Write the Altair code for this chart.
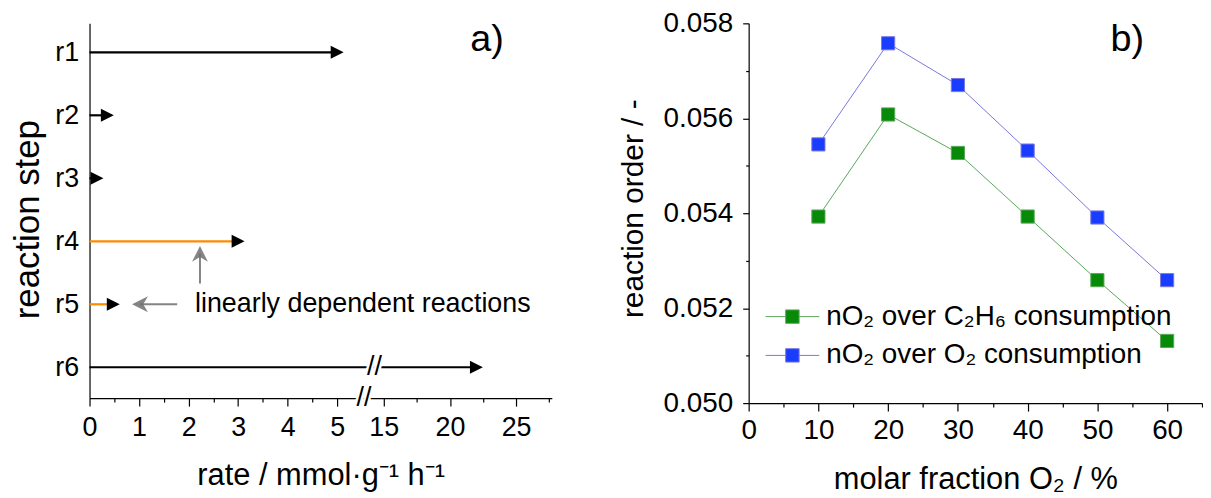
import altair as alt
import pandas as pd

# ---------------- panel a) data ----------------
steps = ["r1", "r2", "r3", "r4", "r5", "r6"]
rates = [5.0, 0.36, 0.15, 3.0, 0.48, 22.0]
linearly_dependent = [False, False, False, True, True, False]
rate_ticks = [0, 0.5, 1, 1.5, 2, 2.5, 3, 3.5, 4, 4.5, 5, 15, 17.5, 20, 22.5, 25, 27.5]
rate_break = [5.54, 13.5]
rate_max = 27.7
annotation_text = "linearly dependent reactions"

# ---------------- panel b) data ----------------
o2_fraction = [10, 20, 30, 40, 50, 60]
order_c2h6 = [0.05393, 0.05608, 0.05527, 0.05393, 0.05259, 0.05131]
order_o2 = [0.05545, 0.05758, 0.05670, 0.05532, 0.05391, 0.05259]
series_names = ["nO\u2082 over C\u2082H\u2086 consumption", "nO\u2082 over O\u2082 consumption"]
fraction_ticks = [0, 5, 10, 15, 20, 25, 30, 35, 40, 45, 50, 55, 60, 65]
order_ticks = [0.050, 0.051, 0.052, 0.053, 0.054, 0.055, 0.056, 0.057, 0.058]

FONT = "Liberation Sans"
WA, HA = 465, 377
WB, HB = 456, 382

TRI_RIGHT = "M-1,-1L1,0L-1,1Z"
HEAD_LEFT = "M-1,0L1,-1L0.4,0L1,1Z"
HEAD_UP = "M0,-1L-1,1L0,0.4L1,1Z"
LEG_SYMBOL = "M-2,0L-0.5,0M0.5,0L2,0M-0.5,-0.5L0.5,-0.5L0.5,0.5L-0.5,0.5Z"

# ---------------- panel a) ----------------
dfA = pd.DataFrame({
    "step": steps,
    "row": list(range(1, len(steps) + 1)),
    "start": [0.0] * len(steps),
    "rate": rates,
    "kind": ["dependent" if d else "independent" for d in linearly_dependent],
})

xA = alt.Scale(domain=[0, rate_break[0], rate_break[1], rate_max],
               range=[0, 276, 276, WA], nice=False, zero=False)
yA = alt.Scale(domain=[0.54, len(steps) + 0.49], reverse=True, nice=False, zero=False)
step_lookup = "[" + ",".join("'%s'" % s for s in steps) + "][datum.value - 1]"

axis_xA = alt.Axis(
    values=rate_ticks,
    labelExpr="datum.value % 1 ? '' : format(datum.value, 'd')",
    tickSize={"condition": {"test": "datum.value % 1 != 0", "value": 4}, "value": 8},
    title="rate / mmol\u00b7g\u207b\u00b9 h\u207b\u00b9",
    labelFontSize=27, titleFontSize=31, labelPadding=9, titlePadding=20,
    labelOverlap=False, labelFlush=False,
)
axis_yA = alt.Axis(
    values=list(range(1, len(steps) + 1)),
    labelExpr=step_lookup,
    ticks=False,
    title="reaction step",
    titleY=197,
    labelFontSize=27, titleFontSize=35, labelPadding=11, titlePadding=9,
)


def XA(field):
    return alt.X(field, scale=xA, axis=axis_xA)


def YA(field):
    return alt.Y(field, scale=yA, axis=axis_yA)


rules_a = alt.Chart(dfA).mark_rule(strokeWidth=2.2).encode(
    x=XA("start:Q"),
    x2="rate:Q",
    y=YA("row:Q"),
    color=alt.Color("kind:N", scale=alt.Scale(domain=["independent", "dependent"],
                                              range=["#000000", "#ff8a00"]), legend=None),
)
heads_a = alt.Chart(dfA).mark_point(shape=TRI_RIGHT, filled=True, size=170, color="black",
                                    opacity=1, strokeWidth=0).encode(
    x=XA("rate:Q"), y=YA("row:Q"))

arrow_h = pd.DataFrame({"x_tail": [1.77], "x_head": [1.02], "row": [5]})
arrow_v = pd.DataFrame({"x": [2.23], "row_tail": [4.67], "row_head": [4.2]})
GRAY = "#6e6e6e"
arr_h_rule = alt.Chart(arrow_h).mark_rule(color=GRAY, strokeWidth=2, opacity=0.85).encode(
    x=XA("x_tail:Q"), x2="x_head:Q", y=YA("row:Q"))
arr_h_head = alt.Chart(arrow_h).mark_point(shape=HEAD_LEFT, filled=True, size=256, color=GRAY,
                                           opacity=0.85, strokeWidth=0).encode(
    x=XA("x_head:Q"), y=YA("row:Q"))
arr_v_rule = alt.Chart(arrow_v).mark_rule(color=GRAY, strokeWidth=2, opacity=0.85).encode(
    x=XA("x:Q"), y=YA("row_tail:Q"), y2="row_head:Q")
arr_v_head = alt.Chart(arrow_v).mark_point(shape=HEAD_UP, filled=True, size=256, color=GRAY,
                                           opacity=0.85, strokeWidth=0).encode(
    x=XA("x:Q"), y=YA("row_head:Q"))

ann_text = alt.Chart(pd.DataFrame({"x": [2.13], "row": [5], "t": [annotation_text]})).mark_text(
    align="left", baseline="middle", fontSize=27, font=FONT, color="#000").encode(
    x=XA("x:Q"), y=YA("row:Q"), text="t:N")

breaks = pd.DataFrame({"x": [rate_break[0], 14.3], "row": [len(steps) + 0.49, 6], "t": ["//", "//"]})
break_bg = alt.Chart(breaks).mark_text(fontSize=27, font=FONT, color="white", stroke="white",
                                       strokeWidth=5, baseline="middle").encode(
    x=XA("x:Q"), y=YA("row:Q"), text="t:N")
break_fg = alt.Chart(breaks).mark_text(fontSize=27, font=FONT, color="black",
                                       baseline="middle").encode(
    x=XA("x:Q"), y=YA("row:Q"), text="t:N")

label_a = alt.Chart(pd.DataFrame({"x": [22.8], "row": [0.8], "t": ["a)"]})).mark_text(
    fontSize=38, font=FONT, color="#000", baseline="middle").encode(
    x=XA("x:Q"), y=YA("row:Q"), text="t:N")

panel_a = alt.layer(rules_a, heads_a, arr_h_rule, arr_h_head, arr_v_rule, arr_v_head,
                    ann_text, break_bg, break_fg, label_a).properties(width=WA, height=HA)

# ---------------- panel b) ----------------
dfB = pd.DataFrame({
    "fraction": o2_fraction + o2_fraction,
    "order": order_c2h6 + order_o2,
    "series": [series_names[0]] * len(o2_fraction) + [series_names[1]] * len(o2_fraction),
})
xB = alt.Scale(domain=[0, 65], nice=False, zero=False)
yB = alt.Scale(domain=[0.050, 0.058], nice=False, zero=False)

axis_xB = alt.Axis(
    values=fraction_ticks,
    labelExpr="datum.value % 10 ? '' : format(datum.value, 'd')",
    tickSize={"condition": {"test": "datum.value % 10 != 0", "value": 4}, "value": 8},
    title="molar fraction O\u2082 / %",
    labelFontSize=28, titleFontSize=31, labelPadding=6, titlePadding=20,
    labelOverlap=False, labelFlush=False,
)
axis_yB = alt.Axis(
    values=order_ticks,
    labelExpr="round(datum.value * 1000) % 2 ? '' : format(datum.value, '.3f')",
    tickSize={"condition": {"test": "round(datum.value * 1000) % 2 == 1", "value": 3}, "value": 6},
    title="reaction order / -",
    titleY=186,
    labelFontSize=28, titleFontSize=30, labelPadding=10, titlePadding=15,
    labelOverlap=False, labelFlush=False,
)


def XB(field):
    return alt.X(field, scale=xB, axis=axis_xB)


def YB(field):
    return alt.Y(field, scale=yB, axis=axis_yB)


LINE_COLORS = ["#5aa65a", "#7878dc"]
FILL_COLORS = ["#078a07", "#1a3cff"]

legB = alt.Legend(title=None, orient="none", legendX=693, legendY=281,
                  symbolType=LEG_SYMBOL, symbolSize=729, symbolStrokeWidth=1,
                  labelFontSize=28, labelFont=FONT, labelOffset=20, rowPadding=11,
                  padding=0, labelLimit=0)

stroke_scale = alt.Scale(domain=series_names, range=LINE_COLORS)
lines_b = alt.Chart(dfB).mark_line(strokeWidth=1).encode(
    x=XB("fraction:Q"), y=YB("order:Q"),
    stroke=alt.Stroke("series:N", scale=stroke_scale, legend=legB),
)
points_b = alt.Chart(dfB).mark_point(shape="square", filled=True, size=175, opacity=1,
                                     strokeWidth=1).encode(
    x=XB("fraction:Q"), y=YB("order:Q"),
    fill=alt.Fill("series:N", scale=alt.Scale(domain=series_names, range=FILL_COLORS), legend=legB),
    stroke=alt.Stroke("series:N", scale=stroke_scale, legend=legB),
)
label_b = alt.Chart(pd.DataFrame({"x": [54.3], "y": [0.05764], "t": ["b)"]})).mark_text(
    fontSize=38, font=FONT, color="#000", baseline="middle").encode(
    x=XB("x:Q"), y=YB("y:Q"), text="t:N")

panel_b = alt.layer(lines_b, points_b, label_b).properties(width=WB, height=HB)

chart = alt.hconcat(panel_a, panel_b, spacing=198, bounds="flush").properties(
    padding={"left": 2, "top": 0, "right": 0, "bottom": 0}
).configure(font=FONT).configure_view(strokeWidth=0).configure_axis(
    grid=False, domainColor="#000", tickColor="#000", labelColor="#000", titleColor="#000",
    titleFontWeight="normal", labelFont=FONT, titleFont=FONT, domainWidth=1.2, tickWidth=1.2,
).configure_legend(labelFont=FONT, labelColor="#000")

chart.save("out.html", embed_options={"renderer": "svg", "actions": False})
